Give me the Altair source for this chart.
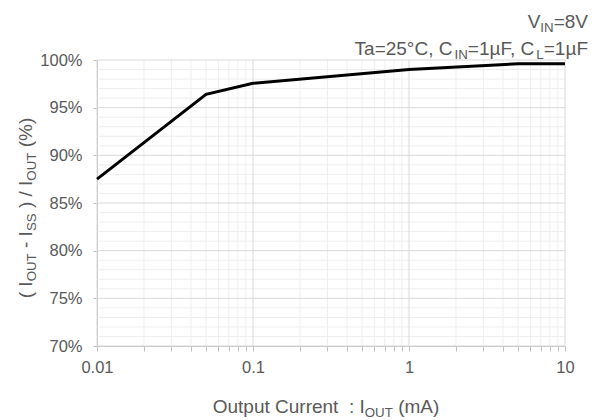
import altair as alt
import pandas as pd

# ---- data ----
current_ma = [0.01, 0.05, 0.1, 1, 5, 10]
ratio_pct = [87.5, 96.4, 97.55, 99.0, 99.6, 99.6]

x_major = [0.01, 0.1, 1, 10]
x_minor = [m * d for d in (0.01, 0.1, 1) for m in range(2, 10)]
y_major = [70, 75, 80, 85, 90, 95, 100]
y_minor = [v for v in range(71, 100) if v % 5 != 0]
x_labels = ["0.01", "0.1", "1", "10"]

# text pieces: (text, is_subscript)
x_title = [("Output Current", False), ("  : I", False), ("OUT", True), (" (mA)", False)]
y_title = [("( I", False), ("OUT", True), (" - I", False), ("SS", True), (" ) / I", False),
           ("OUT", True), (" (%)", False)]
ann1 = [("V", False), ("IN", True), ("=8V", False)]
ann2 = [("Ta=25°C, C", False), ("IN", True), ("=1µF, C", False), ("L", True), ("=1µF", False)]

# ---- layout ----
W, H = 468, 286
PL, PT = 97, 60
FONT = "Liberation Sans"
TXT = "#595959"
TICK_FS = 16.5
TITLE_FS = 19
SUB = 0.7

AW = {' ': 278, '(': 333, ')': 333, '%': 889, ',': 278, '-': 333, '.': 278, '/': 278,
      ':': 278, '=': 584, 'A': 667, 'C': 722, 'F': 611, 'I': 278, 'L': 556, 'N': 722,
      'O': 778, 'S': 667, 'T': 611, 'U': 722, 'V': 667, 'a': 556, 'c': 500, 'e': 556,
      'm': 833, 'n': 556, 'p': 556, 'r': 333, 't': 278, 'u': 556, 'µ': 577, '°': 400}


def tw(s, size):
    return sum(AW.get(c, 556) for c in s) * size / 1000.0


def seg_layout(pieces, size):
    out = []
    off = 0.0
    for txt, sub in pieces:
        fs = size * SUB if sub else size
        lead = len(txt) - len(txt.lstrip(' '))
        out.append((txt.strip(' '), off + tw(' ' * lead, fs), size * 0.2 if sub else 0.0, fs))
        off += tw(txt, fs)
    return out, off


def text_layers(pieces, size, x0, y0, anchor="left", angle=0):
    segs, total = seg_layout(pieces, size)
    start = {"left": 0.0, "center": -total / 2, "right": -total}[anchor]
    layers = []
    for txt, dx, dy, fs in segs:
        kw = dict(align="left", baseline="alphabetic", dx=start + dx, dy=dy,
                  fontSize=fs, font=FONT, color=TXT)
        if angle:
            kw["angle"] = angle
        layers.append(
            alt.Chart(alt.Data(values=[{"t": txt}])).mark_text(**kw).encode(
                x=alt.value(x0), y=alt.value(y0), text="t:N")
        )
    return layers


xs = alt.Scale(type="log", domain=[0.01, 10], nice=False)
ys = alt.Scale(domain=[70, 100], nice=False, zero=False)

label_expr = " : ".join(
    f"datum.value == {v} ? '{l}'" for v, l in zip(x_major, x_labels)) + " : ''"

x_axis = alt.Axis(
    values=sorted(x_major + x_minor), labelExpr=label_expr, title=None, grid=False,
    tickSize=5, tickColor="#bfbfbf", domainColor="#bfbfbf", labelOverlap=False,
    labelFlush=False, labelFont=FONT, labelFontSize=TICK_FS, labelColor=TXT,
    labelPadding=8)
y_axis = alt.Axis(
    values=y_major, labelExpr="datum.value + '%'", title=None, grid=False,
    tickSize=4, tickColor="#bfbfbf", domainColor="#bfbfbf", labelFont=FONT,
    labelFontSize=TICK_FS, labelColor=TXT, labelPadding=11)

line = alt.Chart(pd.DataFrame({"x": current_ma, "y": ratio_pct})).mark_line(
    color="black", strokeWidth=3).encode(
    x=alt.X("x:Q", scale=xs, axis=x_axis),
    y=alt.Y("y:Q", scale=ys, axis=y_axis),
)

grid_xmin = alt.Chart(pd.DataFrame({"x": x_minor})).mark_rule(color="#eeeeee", strokeWidth=1).encode(
    x=alt.X("x:Q", scale=xs, axis=x_axis))
grid_ymin = alt.Chart(pd.DataFrame({"y": y_minor})).mark_rule(color="#eeeeee", strokeWidth=1).encode(
    y=alt.Y("y:Q", scale=ys, axis=y_axis))
grid_xmaj = alt.Chart(pd.DataFrame({"x": x_major})).mark_rule(color="#d9d9d9", strokeWidth=1).encode(
    x=alt.X("x:Q", scale=xs, axis=x_axis))
grid_ymaj = alt.Chart(pd.DataFrame({"y": y_major})).mark_rule(color="#d9d9d9", strokeWidth=1).encode(
    y=alt.Y("y:Q", scale=ys, axis=y_axis))

texts = []
texts += text_layers(x_title, TITLE_FS, W / 2 - 5, 413 - PT, anchor="center")
texts += text_layers(y_title, TITLE_FS, 32 - PL, 208 - PT, anchor="center", angle=270)
texts += text_layers(ann1, TITLE_FS, 588 - PL, 28 - PT, anchor="right")
texts += text_layers(ann2, TITLE_FS, 588 - PL, 55 - PT, anchor="right")

chart = alt.layer(grid_xmin, grid_ymin, grid_xmaj, grid_ymaj, line, *texts).properties(
    width=W, height=H,
    autosize=alt.AutoSizeParams(type="none"),
    padding={"left": PL, "top": PT, "right": 596 - PL - W, "bottom": 420 - PT - H},
).configure_view(stroke=None)

chart.save("out.html", embed_options={"renderer": "svg", "actions": False})
